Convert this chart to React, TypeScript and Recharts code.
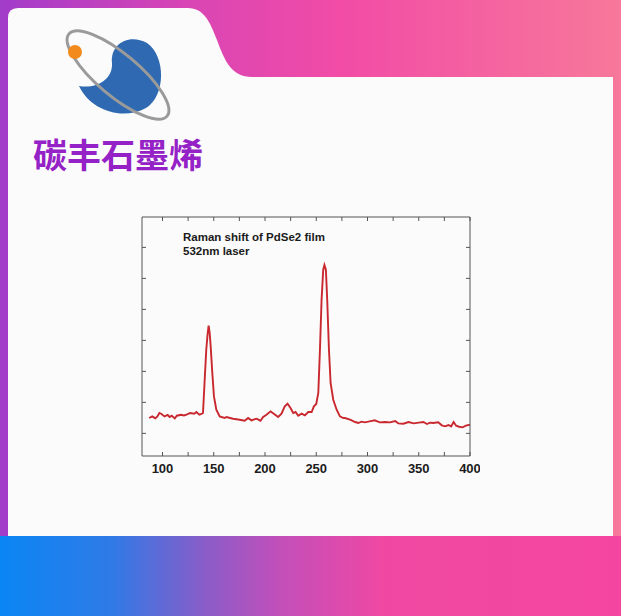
import { LineChart, Line, XAxis, YAxis } from "recharts";

// Raman spectrum of a PdSe2 film
const ramanShift = [
  87, 90, 93, 95, 97, 99, 102, 105, 107, 109, 112, 114, 118, 121, 124, 127, 131, 133, 136, 138,
  139.5, 141, 142.7, 144, 145, 146, 147, 148.6, 150.2, 152.5, 155.8, 160.6,
  162.3, 168.8, 175.3, 180.2, 183.5, 186.8, 191.7, 195.6, 198.2, 201.4, 205.4, 208.6, 212.8, 216.1,
  219.3, 222, 224.9, 227.5, 229.8, 232.4, 235.7, 238.9, 242.2, 245.5, 247.7,
  250, 252, 253.6, 255.2, 256.8, 258, 259.4, 260.7, 262.4, 264, 266.6, 269.9, 273.1, 276.4,
  278, 283, 288, 291, 294, 297.5, 302, 307, 312, 317, 322, 327, 330, 335, 340, 345, 350,
  354.6, 358, 361, 364, 369, 372.5, 375.7, 379, 381.6, 384, 386.5, 389.4, 392.7, 396, 400,
];
const intensity = [
  1496, 1548, 1483, 1548, 1657, 1625, 1548, 1593, 1528, 1570, 1483, 1570, 1602, 1580, 1612, 1657, 1635, 1689, 1602, 1625,
  1657, 2625, 3699, 4200, 4474, 4250, 3806, 2948, 2193, 1764, 1548, 1496,
  1528, 1473, 1441, 1409, 1495, 1420, 1473, 1409, 1528, 1602, 1710, 1635, 1528, 1635,
  1872, 1957, 1818, 1657, 1689, 1570, 1635, 1580, 1689, 1689, 1872,
  1950, 2302, 3699, 5312, 6280, 6430, 6280, 5312, 3699, 2625, 2086, 1764, 1548, 1496,
  1496, 1441, 1367, 1334, 1377, 1355, 1388, 1420, 1355, 1367, 1355, 1398, 1323, 1312, 1367, 1323, 1345,
  1367, 1302, 1345, 1334, 1355, 1259, 1226, 1270, 1226, 1367, 1248, 1215, 1194, 1248, 1280,
];

const xTicks = [100, 125, 150, 175, 200, 225, 250, 275, 300, 325, 350, 375, 400];
const yTicks = [1000, 2000, 3000, 4000, 5000, 6000, 7000];
const titleLines = ["Raman shift of PdSe2 film", "532nm laser"];
const brand = "碳丰石墨烯";

const data = ramanShift.map((x, i) => ({ shift: x, counts: intensity[i] }));

const frame = "#555";

function BottomTick(props: any) {
  const { x, y, payload } = props;
  return (
    <g>
      <line x1={x} y1={y} x2={x} y2={y - 4} stroke={frame} />
      {payload.value % 50 === 0 && (
        <text x={x} y={y + 17} textAnchor="middle" fontSize={13} fontWeight="bold" fill="#1c1c1c"
          fontFamily="'Liberation Sans', Arial, sans-serif">
          {payload.value}
        </text>
      )}
    </g>
  );
}

function TopTick(props: any) {
  const { x, y } = props;
  return <line x1={x} y1={y} x2={x} y2={y + 4} stroke={frame} />;
}

function LeftTick(props: any) {
  const { x, y } = props;
  return <line x1={x} y1={y} x2={x + 4} y2={y} stroke={frame} />;
}

function RightTick(props: any) {
  const { x, y } = props;
  return <line x1={x} y1={y} x2={x - 4} y2={y} stroke={frame} />;
}

function Logo() {
  return (
    <svg width={200} height={135} style={{ position: "absolute", left: 0, top: 0 }}>
      <path
        d="M79,86 C90,110 122,121 146,108 C166,96 166,56 147,43 C129,33 110,44 112,63 C113,80 96,89 79,86 Z"
        fill="#2f69b2"
      />
      <ellipse cx={118} cy={75} rx={64} ry={21} transform="rotate(40 118 75)" fill="none" stroke="#9a9a9a" strokeWidth={3} />
      <circle cx={75} cy={52} r={7} fill="#f28a1e" />
    </svg>
  );
}

export default function App() {
  return (
    <div style={{ position: "absolute", left: 0, top: 0, width: 621, height: 616, overflow: "hidden",
      background: "linear-gradient(90deg, #a23cca 0%, #d845b4 30%, #f24ca6 55%, #f7789a 100%)" }}>
      <div style={{ position: "absolute", left: 0, top: 536, width: 621, height: 80,
        background: "linear-gradient(90deg, #0a86f4 0%, #2f7ae6 18%, #8a5cc8 33%, #c24fba 45%, #f048a2 62%, #f446a0 100%)" }} />
      <svg width={621} height={616} style={{ position: "absolute", left: 0, top: 0 }}>
        <path
          d="M8,18 Q8,8 18,8 L188,8 C204,8 210,22 217,40 C225,62 232,77 252,77 L613,77 L613,536 L8,536 Z"
          fill="#fbfbfb"
        />
      </svg>
      <Logo />
      <div style={{ position: "absolute", left: 33, top: 134, fontSize: 34, lineHeight: "40px", fontWeight: 700,
        color: "#9522c6", fontFamily: "'Noto Sans CJK SC', sans-serif", whiteSpace: "nowrap" }}>
        {brand}
      </div>

      <div style={{ position: "absolute", left: 120, top: 200 }}>
        <LineChart width={360} height={300} data={data} margin={{ top: 16, right: 9, left: 21, bottom: 14 }}>
          <XAxis xAxisId="top" orientation="top" dataKey="shift" type="number" domain={[80, 400]} allowDataOverflow
            ticks={xTicks} interval={0} height={1} tickSize={0} tickMargin={0} tickLine={false}
            axisLine={{ stroke: frame }} tick={<TopTick />} />
          <XAxis xAxisId="bottom" orientation="bottom" dataKey="shift" type="number" domain={[80, 400]} allowDataOverflow
            ticks={xTicks} interval={0} height={30} tickSize={0} tickMargin={0} tickLine={false}
            axisLine={{ stroke: frame }} tick={<BottomTick />} />
          <YAxis yAxisId="left" orientation="left" type="number" domain={[270, 7980]} allowDataOverflow
            ticks={yTicks} interval={0} width={1} tickSize={0} tickMargin={0} tickLine={false}
            axisLine={{ stroke: frame }} tick={<LeftTick />} />
          <YAxis yAxisId="right" orientation="right" type="number" domain={[270, 7980]} allowDataOverflow
            ticks={yTicks} interval={0} width={1} tickSize={0} tickMargin={0} tickLine={false}
            axisLine={{ stroke: frame }} tick={<RightTick />} />
          <Line xAxisId="top" yAxisId="right" type="linear" dataKey="counts" stroke="none"
            dot={false} activeDot={false} legendType="none" isAnimationActive={false} />
          <Line xAxisId="bottom" yAxisId="left" type="linear" dataKey="counts" stroke="#c8282e"
            strokeWidth={1.9} dot={false} isAnimationActive={false} />
        </LineChart>
        <div style={{ position: "absolute", left: 63, top: 30, fontSize: 11.5, lineHeight: "14.3px",
          fontWeight: 700, color: "#1a1a1a", fontFamily: "'Liberation Sans', Arial, sans-serif", whiteSpace: "nowrap" }}>
          {titleLines.map((t) => <div key={t}>{t}</div>)}
        </div>
      </div>
    </div>
  );
}
